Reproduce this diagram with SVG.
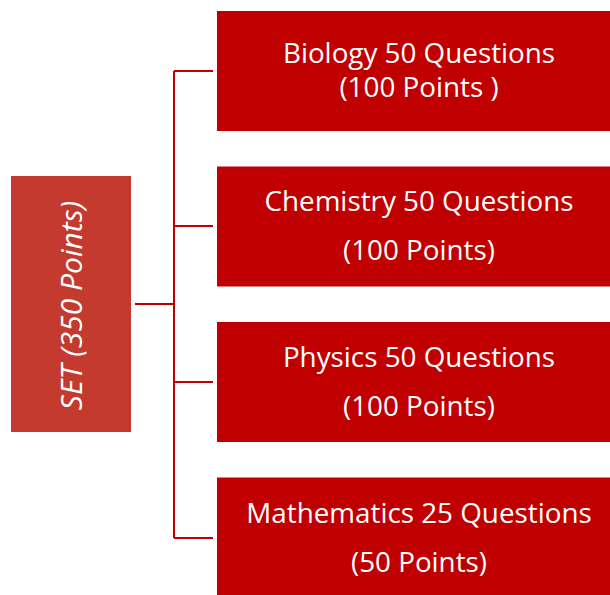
<svg xmlns="http://www.w3.org/2000/svg" width="610" height="595" viewBox="0 0 610 595">
<style>
.box{fill:#C00000}
.root{fill:#C43A2F}
.t{font-family:"Open Sans","Liberation Sans",sans-serif;font-size:27.8px;fill:#FFFFFF;text-anchor:middle}
.rt{font-family:"Open Sans","Liberation Sans",sans-serif;font-size:30px;font-style:italic;fill:#FFFFFF;text-anchor:middle}
.c{stroke:#C00000;stroke-width:2;fill:none}
</style>
<rect width="610" height="595" fill="#FFFFFF"/>
<g id="connectors">
<path class="c" d="M135,304 H174"/>
<path class="c" d="M174,71 V538"/>
<path class="c" d="M174,71 H213 M174,226 H213 M174,382 H213 M174,538 H213"/>
</g>
<g id="set">
<rect class="root" x="11" y="176" width="120" height="256"/>
<text class="rt" transform="translate(82,305.5) rotate(-90)">SET (350 Points)</text>
</g>
<g id="biology">
<rect class="box" x="217" y="11" width="393" height="120"/>
<text class="t" x="419" y="63">Biology 50 Questions</text>
<text class="t" x="419" y="97">(100 Points )</text>
</g>
<g id="chemistry">
<rect class="box" x="217" y="166.5" width="393" height="120"/>
<text class="t" x="419" y="211">Chemistry 50 Questions</text>
<text class="t" x="419" y="260">(100 Points)</text>
</g>
<g id="physics">
<rect class="box" x="217" y="322" width="393" height="120"/>
<text class="t" x="419" y="367">Physics 50 Questions</text>
<text class="t" x="419" y="416">(100 Points)</text>
</g>
<g id="mathematics">
<rect class="box" x="217" y="477.5" width="393" height="120"/>
<text class="t" x="419" y="523">Mathematics 25 Questions</text>
<text class="t" x="419" y="572">(50 Points)</text>
</g>
</svg>
